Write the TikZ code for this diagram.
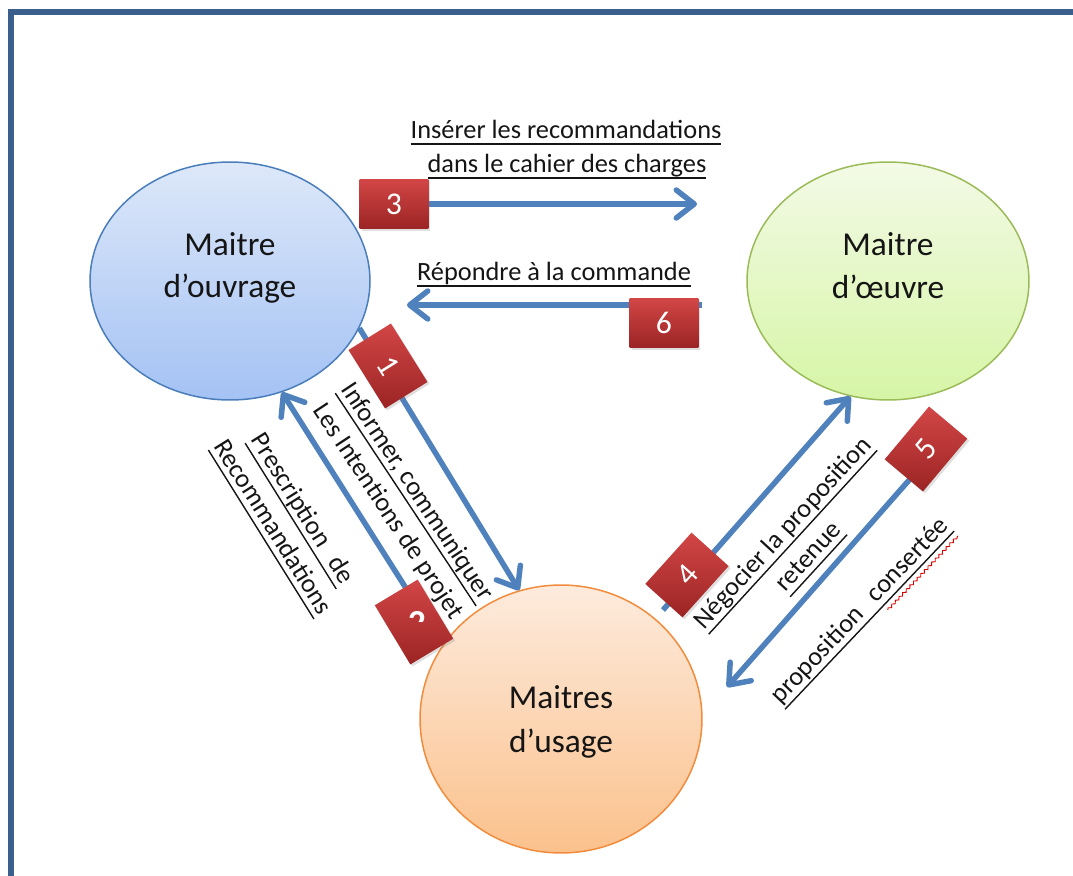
\documentclass[tikz,border=0pt]{standalone}
\usepackage{fontspec}
\setmainfont{Carlito}
\usetikzlibrary{arrows.meta,shapes.geometric,shadows,decorations.pathmorphing}

\definecolor{framec}{HTML}{3A5F8C}
\definecolor{arrowc}{HTML}{4F81BD}
\definecolor{boxtop}{HTML}{D24646}
\definecolor{boxbot}{HTML}{9C2424}
\definecolor{bluetop}{HTML}{DDE8F9}
\definecolor{bluebot}{HTML}{A4C2F4}
\definecolor{blueline}{HTML}{4A7EBB}
\definecolor{greentop}{HTML}{F3FAE6}
\definecolor{greenbot}{HTML}{D6F5A6}
\definecolor{greenline}{HTML}{9BBB59}
\definecolor{orangetop}{HTML}{FDEBDD}
\definecolor{orangebot}{HTML}{FBC18C}
\definecolor{orangeline}{HTML}{F28C3C}
\definecolor{inkc}{HTML}{151515}

% underlined text with a rule at descender level
\newsavebox{\ulbox}
\newcommand{\ulx}[1]{\sbox{\ulbox}{#1}\leavevmode\rlap{\rule[-3.9pt]{\wd\ulbox}{0.8pt}}\usebox{\ulbox}}
\newcommand{\circfont}{\fontsize{19}{23.5}\selectfont}
\newcommand{\labfont}{\fontsize{15}{19.8}\selectfont}
\newcommand{\numfont}{\fontsize{18}{21}\selectfont}

\pgfdeclarelayer{ellipses}
\pgfdeclarelayer{flows}
\pgfsetlayers{ellipses,flows,main}

\tikzset{
  bubble/.style={ellipse, line width=0.03cm, inner sep=0pt},
  circtext/.style={font=\circfont, text=inkc, inner sep=0pt, anchor=base},
  lab/.style={font=\labfont, text=inkc, inner sep=0pt, align=center},
  numbox/.style={rectangle, inner sep=0pt, minimum width=1.38cm, minimum height=1.0cm,
    top color=boxtop, bottom color=boxbot, text=white, font=\numfont,
    drop shadow={opacity=0.25, shadow xshift=0.04cm, shadow yshift=-0.04cm}},
  flow/.style={draw=arrowc, line width=0.11cm, -{Straight Barb[length=0.36cm, width=0.56cm, round]}}
}

\begin{document}
\begin{tikzpicture}[x=0.02cm, y=-0.02cm]
\useasboundingbox (0,0) rectangle (1073,876);

% outer frame, running past the right and lower edges
\begin{scope}
  \clip (0,0) rectangle (1073,876);
  \draw[framec, line width=0.12cm] (11,12) rectangle (1200,1000);
\end{scope}

% the three actors
\begin{pgfonlayer}{ellipses}
  \node[bubble, draw=blueline, top color=bluetop, bottom color=bluebot,
        minimum width=5.6cm, minimum height=4.76cm] (mo) at (230,281) {};
  \node[bubble, draw=greenline, top color=greentop, bottom color=greenbot,
        minimum width=5.64cm, minimum height=4.76cm] (me) at (888,281) {};
  \node[bubble, draw=orangeline, top color=orangetop, bottom color=orangebot,
        minimum width=5.64cm, minimum height=5.36cm] (mu) at (561,719) {};
\end{pgfonlayer}

\node[circtext] (mo-a) at (230,255) {Maitre};
\node[circtext] (mo-b) at (230,297) {d’ouvrage};
\node[circtext] (me-a) at (888,255) {Maitre};
\node[circtext] (me-b) at (888,298) {d’œuvre};
\node[circtext] (mu-a) at (561,708) {Maitres};
\node[circtext] (mu-b) at (561,752) {d’usage};

% free ends of the flows
\coordinate (e3) at (697,204);
\coordinate (s6) at (702,305);
\coordinate (e6) at (407,305);
\coordinate (s2) at (416,604);
\coordinate (s4) at (663,610);
\coordinate (s5) at (925,462);
\coordinate (e5) at (727,687);

% numbered steps
\node[numbox] (b3) at (394,204) {3};
\node[numbox] (b6) at (664,323) {6};
\node[numbox, rotate=-58] (b1) at (388,366) {1};
\node[numbox, rotate=-59] (b2) at (414,622) {};
\node[numbox, rotate=48] (b4) at (687,575) {4};
\node[numbox, rotate=50] (b5) at (926,449) {5};
\begin{scope}
  \clip (395,600) rectangle (445,621);
  \node[font=\fontsize{20}{24}\selectfont\bfseries, text=white, inner sep=0pt] (b2n) at (417,623) {2};
\end{scope}

% flows between the actors
\begin{pgfonlayer}{flows}
  \draw[flow] (b3.east) -- (e3);
  \draw[flow] (s6) -- (e6);
  \draw[flow] (mo.340) -- (mu.108.4);
  \draw[flow] (s2) -- (mo.295.5);
  \draw[flow] (s4) -- (me.252.6);
  \draw[flow] (s5) -- (e5);
\end{pgfonlayer}

% flow labels
\node[lab, anchor=base] (l3a) at (566,138) {\ulx{Insérer les recommandations}};
\node[lab, anchor=base] (l3b) at (567,172) {\ulx{dans le cahier des charges}};
\node[lab, anchor=base] (l6) at (554,280) {\ulx{Répondre à la commande}};
\node[lab, rotate=-58] (l2) at (286,519) {\ulx{Prescription\hspace{0.4em} de}\\\ulx{Recommandations}};
\node[lab, rotate=-56.5] (l1) at (402,502) {\ulx{Informer, communiquer}\\Les Intentions de projet};
\node[lab, rotate=47.5] (l4) at (797,546) {\ulx{Négocier la proposition}\\\ulx{retenue}};
\begin{scope}[shift={(861,612)}, rotate=46.5]
  \node[lab, transform shape] (l5) at (0,0) {\ulx{proposition\hspace{0.4em} consertée}};
  \draw[red!85!black, line width=0.5pt, decorate,
        decoration={snake, amplitude=0.7pt, segment length=3pt}] (20,18) -- (122,18);
\end{scope}
\end{tikzpicture}
\end{document}
